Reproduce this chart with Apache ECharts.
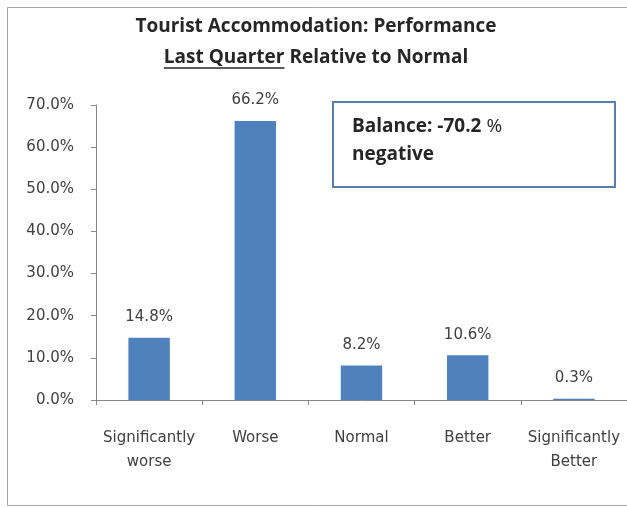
<!DOCTYPE html>
<html>
<head>
<meta charset="utf-8">
<script src="https://cdn.jsdelivr.net/npm/echarts@6/dist/echarts.min.js"></script>
<style>
  html, body { margin: 0; padding: 0; background: #fff; }
  #chart { width: 627px; height: 508px; }
</style>
</head>
<body>
<div id="chart"></div>
<script>
const categories = ["Significantly\nworse", "Worse", "Normal", "Better", "Significantly\nBetter"];
const shares = [14.8, 66.2, 8.2, 10.6, 0.3];
const yTicks = { min: 0, max: 70, step: 10 };
const titleLines = ["Tourist Accommodation: Performance", "Last Quarter Relative to Normal"];
const underlined = "Last Quarter";
const balanceValue = -70.2;

const titleFont = "bold 19px 'Open Sans'";
const axisFont = "'DejaVu Sans'";
const barColor = "#4F81BD";
const textColor = "#404040";

// measure text so the underline sits under "Last Quarter"
function textWidth(str, font) {
    const ctx = document.createElement("canvas").getContext("2d");
    ctx.font = font;
    return ctx.measureText(str).width;
}

const titleX = 316;
const line2Width = textWidth(titleLines[1], titleFont);
const ulWidth = textWidth(underlined, titleFont);
const ulStart = titleX - line2Width / 2;

let myChart = echarts.init(document.getElementById("chart"));

let option = {
    animation: false,
    backgroundColor: "#fff",
    grid: {
        left: 96,
        top: 105,
        width: 533,
        height: 295
    },
    xAxis: {
        type: "category",
        data: categories,
        axisLine: { lineStyle: { color: "#868686", width: 1 } },
        axisTick: { show: true, length: 5, lineStyle: { color: "#868686" } },
        axisLabel: {
            color: textColor,
            fontFamily: axisFont,
            fontSize: 15,
            lineHeight: 24,
            margin: 26,
            interval: 0
        }
    },
    yAxis: {
        type: "value",
        min: yTicks.min,
        max: yTicks.max,
        interval: yTicks.step,
        splitLine: { show: false },
        axisLine: { show: true, lineStyle: { color: "#868686", width: 1 } },
        axisTick: { show: true, length: 5, lineStyle: { color: "#868686" } },
        axisLabel: {
            color: textColor,
            fontFamily: axisFont,
            fontSize: 15,
            margin: 22,
            formatter: (v) => v.toFixed(1) + "%"
        }
    },
    series: [
        {
            type: "bar",
            data: shares,
            barWidth: "39%",
            itemStyle: { color: barColor },
            label: {
                show: true,
                position: "top",
                distance: 13,
                color: textColor,
                fontFamily: axisFont,
                fontSize: 15,
                formatter: (p) => p.value.toFixed(1) + "%"
            }
        }
    ],
    graphic: [
        {
            type: "rect",
            shape: { x: 7.5, y: 7.5, width: 640, height: 498 },
            style: { fill: null, stroke: "#a6a6a6", lineWidth: 1 },
            silent: true
        },
        {
            type: "text",
            x: titleX,
            y: 27,
            style: {
                text: titleLines[0],
                font: titleFont,
                fill: "#262626",
                textAlign: "center",
                textVerticalAlign: "middle"
            }
        },
        {
            type: "text",
            x: titleX,
            y: 58,
            style: {
                text: titleLines[1],
                font: titleFont,
                fill: "#262626",
                textAlign: "center",
                textVerticalAlign: "middle"
            }
        },
        {
            type: "line",
            shape: { x1: ulStart, y1: 68, x2: ulStart + ulWidth, y2: 68 },
            style: { stroke: "#262626", lineWidth: 1.5 }
        },
        {
            type: "rect",
            shape: { x: 333, y: 102, width: 282, height: 85 },
            style: { fill: "#fff", stroke: "#5A7FAA", lineWidth: 2 }
        },
        {
            type: "text",
            x: 352,
            y: 127,
            style: {
                text: "{b|Balance: " + balanceValue.toFixed(1) + " }{n|%}",
                textVerticalAlign: "middle",
                rich: {
                    b: { font: "bold 19px 'Open Sans'", fill: "#262626" },
                    n: { font: "19px 'Open Sans'", fill: "#262626" }
                }
            }
        },
        {
            type: "text",
            x: 352,
            y: 155,
            style: {
                text: balanceValue < 0 ? "negative" : "positive",
                font: "bold 19px 'Open Sans'",
                fill: "#262626",
                textVerticalAlign: "middle"
            }
        }
    ]
};

myChart.setOption(option, true);
</script>
</body>
</html>
